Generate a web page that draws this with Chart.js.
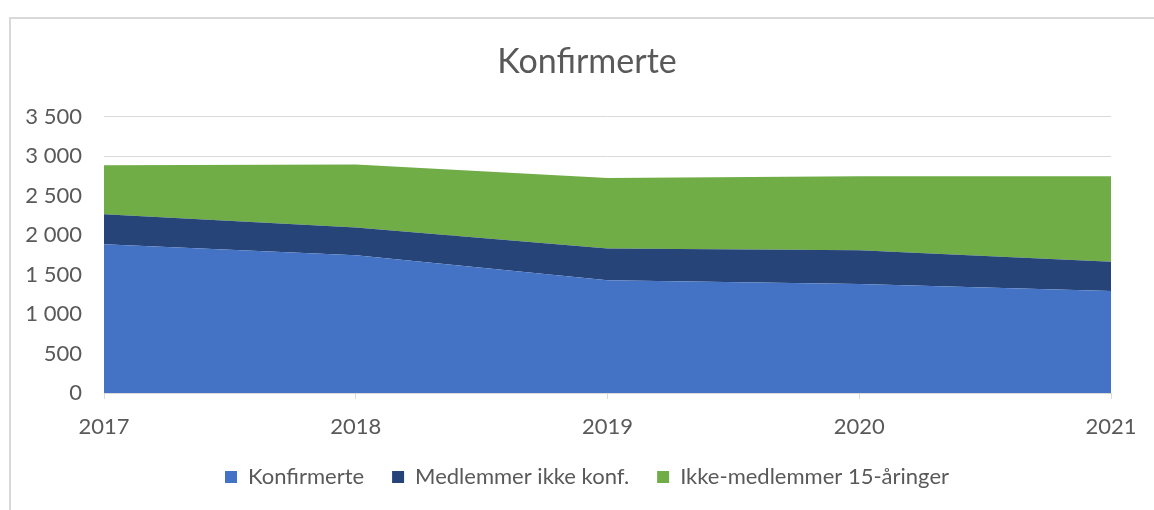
<!DOCTYPE html>
<html>
<head>
<meta charset="utf-8">
<script src="https://cdn.jsdelivr.net/npm/chart.js@4"></script>
<style>
  body { margin: 0; background: #fff; }
  #frame { position: absolute; left: 9px; top: 17px; width: 1160px; height: 520px; border-left: 2px solid #d9d9d9; border-top: 2px solid #d9d9d9; }
  canvas { position: absolute; left: 0; top: 0; }
</style>
</head>
<body>
<div id="frame"></div>
<canvas id="chart" width="1154" height="510"></canvas>
<script>
const years = ["2017", "2018", "2019", "2020", "2021"];
const konfirmerte = [1886, 1747, 1430, 1380, 1291];
const medlemmerIkkeKonf = [380, 350, 401, 430, 371];
const ikkeMedlemmer = [620, 797, 894, 937, 1085];
const yTicks = [0, 500, 1000, 1500, 2000, 2500, 3000, 3500];

const font = "Lato";
const grey = "#595959";

function fmt(v) {
    return String(v).replace(/\B(?=(\d{3})+(?!\d))/g, " ");
}

new Chart(document.getElementById("chart"), {
    type: "line",
    data: {
        labels: years,
        datasets: [
            { label: "Konfirmerte", data: konfirmerte, backgroundColor: "#4472C4", fill: "origin" },
            { label: "Medlemmer ikke konf.", data: medlemmerIkkeKonf, backgroundColor: "#264478", fill: "-1" },
            { label: "Ikke-medlemmer 15-åringer", data: ikkeMedlemmer, backgroundColor: "#70AD47", fill: "-1" },
        ].map((d) => Object.assign(d, { borderWidth: 0, pointRadius: 0, tension: 0, borderColor: d.backgroundColor })),
    },
    options: {
        responsive: false,
        animation: false,
        layout: { padding: { left: 20, right: 0, top: 0, bottom: 12 } },
        plugins: {
            tooltip: { enabled: false },
            title: {
                display: true,
                text: "Konfirmerte",
                color: grey,
                font: { family: font, size: 34, weight: "normal" },
                padding: { top: 42, bottom: 34 },
            },
            legend: {
                position: "bottom",
                labels: {
                    color: grey,
                    font: { family: font, size: 22 },
                    boxWidth: 12,
                    boxHeight: 12,
                    padding: 28,
                },
            },
        },
        scales: {
            x: {
                offset: false,
                grid: { display: true, drawOnChartArea: false, tickLength: 6, color: "#d9d9d9" },
                border: { color: "#d9d9d9" },
                ticks: { color: grey, font: { family: font, size: 22 }, padding: 15, maxRotation: 0 },
                afterFit: (s) => { s.height = 45; },
            },
            y: {
                stacked: true,
                min: 0,
                max: 3500,
                afterBuildTicks: (s) => { s.ticks = yTicks.map((v) => ({ value: v })); },
                grid: { color: "#d9d9d9", drawTicks: false },
                border: { display: false },
                ticks: { color: grey, font: { family: font, size: 22 }, padding: 22, callback: (v) => fmt(v) },
                afterFit: (s) => { s.width = 84; },
            },
            y2: {
                position: "right",
                display: true,
                grid: { display: false },
                border: { display: false },
                ticks: { display: false },
                afterFit: (s) => { s.width = 43; },
            },
        },
    },
});
</script>
</body>
</html>
